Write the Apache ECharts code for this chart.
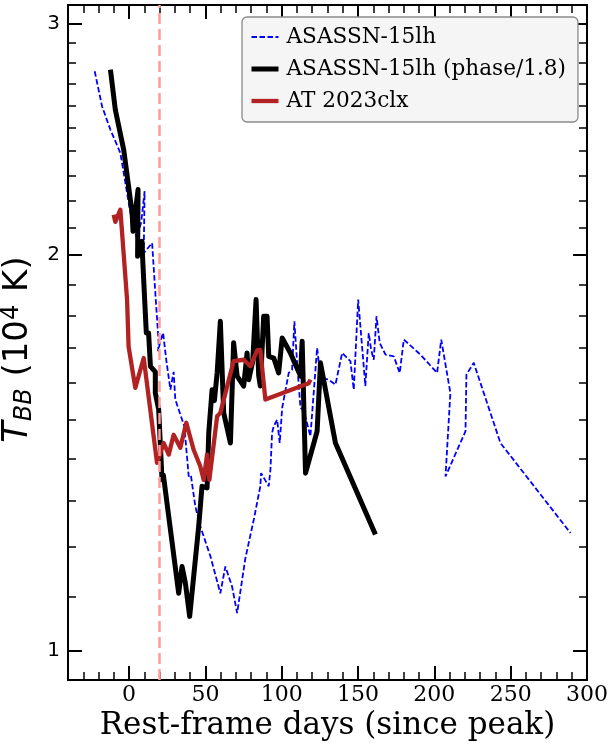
<!DOCTYPE html>
<html>
<head>
<meta charset="utf-8">
<script src="https://cdn.jsdelivr.net/npm/echarts@6/dist/echarts.min.js"></script>
<style>
html, body { margin: 0; padding: 0; background: #fff; }
#main { width: 611px; height: 747px; }
</style>
</head>
<body>
<div id="main"></div>
<script>
// ASASSN-15lh (blue dashed)
var blueDays = [-22.5, -17.7, -12.3, -5.7, -3.5, 1, 5, 8, 10.2, 9.6, 15.1, 17.5, 19.4, 19.0, 20.5, 22.3, 24.5, 27.1, 29.2, 30.3, 33, 36.2, 39.1, 40.5, 43.4, 46.7, 53.3, 59.8, 63.1, 67.5, 70.8, 76.2, 81.7, 86, 86.5, 91.5, 92.6, 93.7, 94.8, 97, 98.7, 100.3, 104.6, 106.8, 108.3, 110.1, 112.3, 114.4, 118.8, 123.2, 125.4, 130.8, 135.2, 139.6, 145, 147.2, 150.1, 154.8, 157, 158.6, 160.3, 162.1, 164.2, 168, 173.4, 177.3, 180, 190.9, 201.8, 204.5, 210.5, 207.3, 220.4, 221, 225.8, 243.3, 289.2];
var blueTemp = [2.76, 2.596, 2.493, 2.392, 2.31, 2.15, 2.06, 2.12, 2.237, 2.007, 2.043, 1.85, 1.715, 1.69, 1.72, 1.745, 1.66, 1.58, 1.63, 1.553, 1.52, 1.482, 1.357, 1.36, 1.288, 1.243, 1.18, 1.106, 1.159, 1.119, 1.068, 1.176, 1.258, 1.334, 1.365, 1.334, 1.373, 1.465, 1.482, 1.499, 1.439, 1.53, 1.627, 1.636, 1.781, 1.656, 1.53, 1.525, 1.456, 1.70, 1.613, 1.608, 1.594, 1.685, 1.661, 1.58, 1.85, 1.59, 1.745, 1.694, 1.665, 1.797, 1.715, 1.68, 1.675, 1.627, 1.725, 1.68, 1.627, 1.725, 1.571, 1.357, 1.469, 1.622, 1.656, 1.439, 1.229];

// ASASSN-15lh with phase / 1.8 (black)
var blackDays = [-12.2, -9, -3.5, 2, 2.6, 5.9, 5.6, 8.5, 8.8, 10, 11.3, 12.8, 14, 17.2, 17.2, 19.4, 21.6, 22.5, 26, 32.5, 34.7, 36.9, 39.7, 45.6, 47.8, 51.1, 52.2, 54.4, 55.9, 57.7, 59.8, 62, 66.4, 68.5, 70.8, 75.1, 77.3, 78.4, 81, 83.2, 84.9, 86, 88.2, 90.4, 91.5, 94.8, 98, 100.3, 105.7, 112.3, 113.4, 115.6, 123.2, 125.4, 135.2, 161.4];
var blackTemp = [2.768, 2.58, 2.405, 2.154, 2.085, 2.244, 1.996, 2.049, 2.0, 1.872, 1.745, 1.745, 1.646, 1.63, 1.571, 1.526, 1.349, 1.36, 1.265, 1.106, 1.159, 1.126, 1.062, 1.243, 1.334, 1.33, 1.465, 1.58, 1.55, 1.627, 1.781, 1.517, 1.439, 1.715, 1.618, 1.59, 1.685, 1.608, 1.66, 1.85, 1.62, 1.59, 1.797, 1.797, 1.675, 1.67, 1.627, 1.73, 1.685, 1.618, 1.72, 1.365, 1.469, 1.656, 1.439, 1.226];

// AT 2023clx (red)
var redDays = [-10.1, -9, -5.7, -1.3, -0.3, 4.1, 9.6, 18.3, 20.5, 22.7, 26, 29.2, 33.6, 37.5, 42.3, 46.7, 48.9, 51.1, 52.6, 57.7, 59.8, 68.5, 75.1, 79.5, 83.9, 86, 89.3, 117.7, 118.8];
var redTemp = [2.147, 2.12, 2.166, 1.85, 1.704, 1.585, 1.67, 1.39, 1.414, 1.439, 1.41, 1.46, 1.427, 1.491, 1.422, 1.381, 1.349, 1.41, 1.349, 1.508, 1.517, 1.661, 1.665, 1.646, 1.693, 1.694, 1.553, 1.598, 1.608];

var seriesNames = ['ASASSN-15lh', 'ASASSN-15lh (phase/1.8)', 'AT 2023clx'];
var vLineDay = 20;

// tick values
var xMajorTicks = [0, 50, 100, 150, 200, 250, 300];
var xMinorTicks = [-30, -20, -10, 10, 20, 30, 40, 60, 70, 80, 90, 110, 120, 130, 140, 160, 170, 180, 190, 210, 220, 230, 240, 260, 270, 280, 290];
var yMajorTicks = [1, 2, 3];
var yMinorTicks = [1.1, 1.2, 1.3, 1.4, 1.5, 1.6, 1.7, 1.8, 1.9, 2.1, 2.2, 2.3, 2.4, 2.5, 2.6, 2.7, 2.8, 2.9];

function pairs(xs, ys) {
    return xs.map(function (x, i) { return [x, ys[i]]; });
}

var serif = 'DejaVu Serif';
var sans = 'DejaVu Sans';

var blueLine = { color: '#0000ff', width: 1.8, type: [5.5, 2.5] };
var blackLine = { color: '#000', width: 5, join: 'round' };
var redLine = { color: '#b22222', width: 4.3, join: 'round' };

function xAxisDef(pos, ticks, len, labels, line) {
    return {
        type: 'value', position: pos, min: -40, max: 300,
        axisLine: { show: line, onZero: false, lineStyle: { color: '#000', width: 2 } },
        axisTick: { show: true, inside: true, length: len, customValues: ticks,
            lineStyle: { color: '#000', width: len > 10 ? 2 : 1.5 } },
        axisLabel: { show: labels, customValues: ticks, margin: 4, color: '#000',
            fontFamily: serif, fontSize: 22 },
        splitLine: { show: false }
    };
}

function yAxisDef(pos, ticks, len, labels, line) {
    return {
        type: 'log', logBase: 10, position: pos, min: 0.95, max: 3.1,
        axisLine: { show: line, onZero: false, lineStyle: { color: '#000', width: 2 } },
        axisTick: { show: true, inside: true, length: len, customValues: ticks,
            lineStyle: { color: '#000', width: len > 10 ? 2 : 1.5 } },
        axisLabel: { show: labels, customValues: ticks, margin: 8, color: '#000',
            fontFamily: sans, fontSize: 20 },
        splitLine: { show: false }
    };
}

var xAxes = [
    xAxisDef('bottom', xMajorTicks, 14, true, true),
    xAxisDef('bottom', xMinorTicks, 8, false, false),
    xAxisDef('top', xMajorTicks, 14, false, true),
    xAxisDef('top', xMinorTicks, 8, false, false)
];
xAxes[0].name = 'Rest-frame days (since peak)';
xAxes[0].nameLocation = 'middle';
xAxes[0].nameGap = 28;
xAxes[0].nameTextStyle = { fontFamily: serif, fontSize: 31, color: '#000' };

var yAxes = [
    yAxisDef('left', yMajorTicks, 14, true, true),
    yAxisDef('left', yMinorTicks, 8, false, false),
    yAxisDef('right', yMajorTicks, 14, false, true),
    yAxisDef('right', yMinorTicks, 8, false, false)
];
yAxes[0].name = '{t|T}{s|BB}{n| (10}{p|4}{n| K)}';
yAxes[0].nameLocation = 'middle';
yAxes[0].nameRotate = 90;
yAxes[0].nameGap = 4;
yAxes[0].nameTextStyle = {
    color: '#000', fontFamily: sans, fontSize: 34,
    padding: [8, 14, 0, 0],
    rich: {
        t: { fontFamily: sans, fontSize: 35, fontStyle: 'italic', color: '#000' },
        s: { fontFamily: sans, fontSize: 24, fontStyle: 'italic', color: '#000', padding: [12, 1, 0, 0] },
        n: { fontFamily: sans, fontSize: 34, color: '#000' },
        p: { fontFamily: sans, fontSize: 24, color: '#000', padding: [0, 2, 14, 0] }
    }
};

var myChart = echarts.init(document.getElementById('main'), null, { renderer: 'canvas' });

option = {
    backgroundColor: '#fff',
    animation: false,
    grid: { left: 68, right: 24, top: 5, bottom: 67, containLabel: false, outerBoundsMode: 'none' },
    legend: {
        data: [
            { name: seriesNames[0], lineStyle: blueLine },
            { name: seriesNames[1], lineStyle: blackLine },
            { name: seriesNames[2], lineStyle: redLine }
        ],
        orient: 'vertical',
        left: 242, top: 17,
        padding: [9, 12, 10, 7],
        itemGap: 10,
        itemWidth: 27, itemHeight: 14,
        itemStyle: { opacity: 0 },
        backgroundColor: '#f5f5f5',
        borderColor: '#8a8a8a', borderWidth: 1.3, borderRadius: 5,
        textStyle: { fontFamily: serif, fontSize: 21.6, color: '#000', lineHeight: 22, padding: [0, 0, 0, 3] }
    },
    xAxis: xAxes,
    yAxis: yAxes,
    series: [
        {
            name: 'vline', type: 'line', data: [], silent: true,
            markLine: {
                silent: true, symbol: 'none', label: { show: false },
                lineStyle: { color: '#ff9c9c', width: 2.5, type: [11, 5] },
                data: [{ xAxis: vLineDay }]
            }
        },
        {
            name: seriesNames[0], type: 'line', data: pairs(blueDays, blueTemp),
            showSymbol: false, symbol: 'none',
            lineStyle: blueLine, itemStyle: { color: '#0000ff' }
        },
        {
            name: seriesNames[1], type: 'line', data: pairs(blackDays, blackTemp),
            showSymbol: false, symbol: 'none',
            lineStyle: blackLine, itemStyle: { color: '#000' }
        },
        {
            name: seriesNames[2], type: 'line', data: pairs(redDays, redTemp),
            showSymbol: false, symbol: 'none',
            lineStyle: redLine, itemStyle: { color: '#b22222' }
        }
    ]
};

if (option && typeof option === 'object') {
    myChart.setOption(option, true);
}
</script>
</body>
</html>
